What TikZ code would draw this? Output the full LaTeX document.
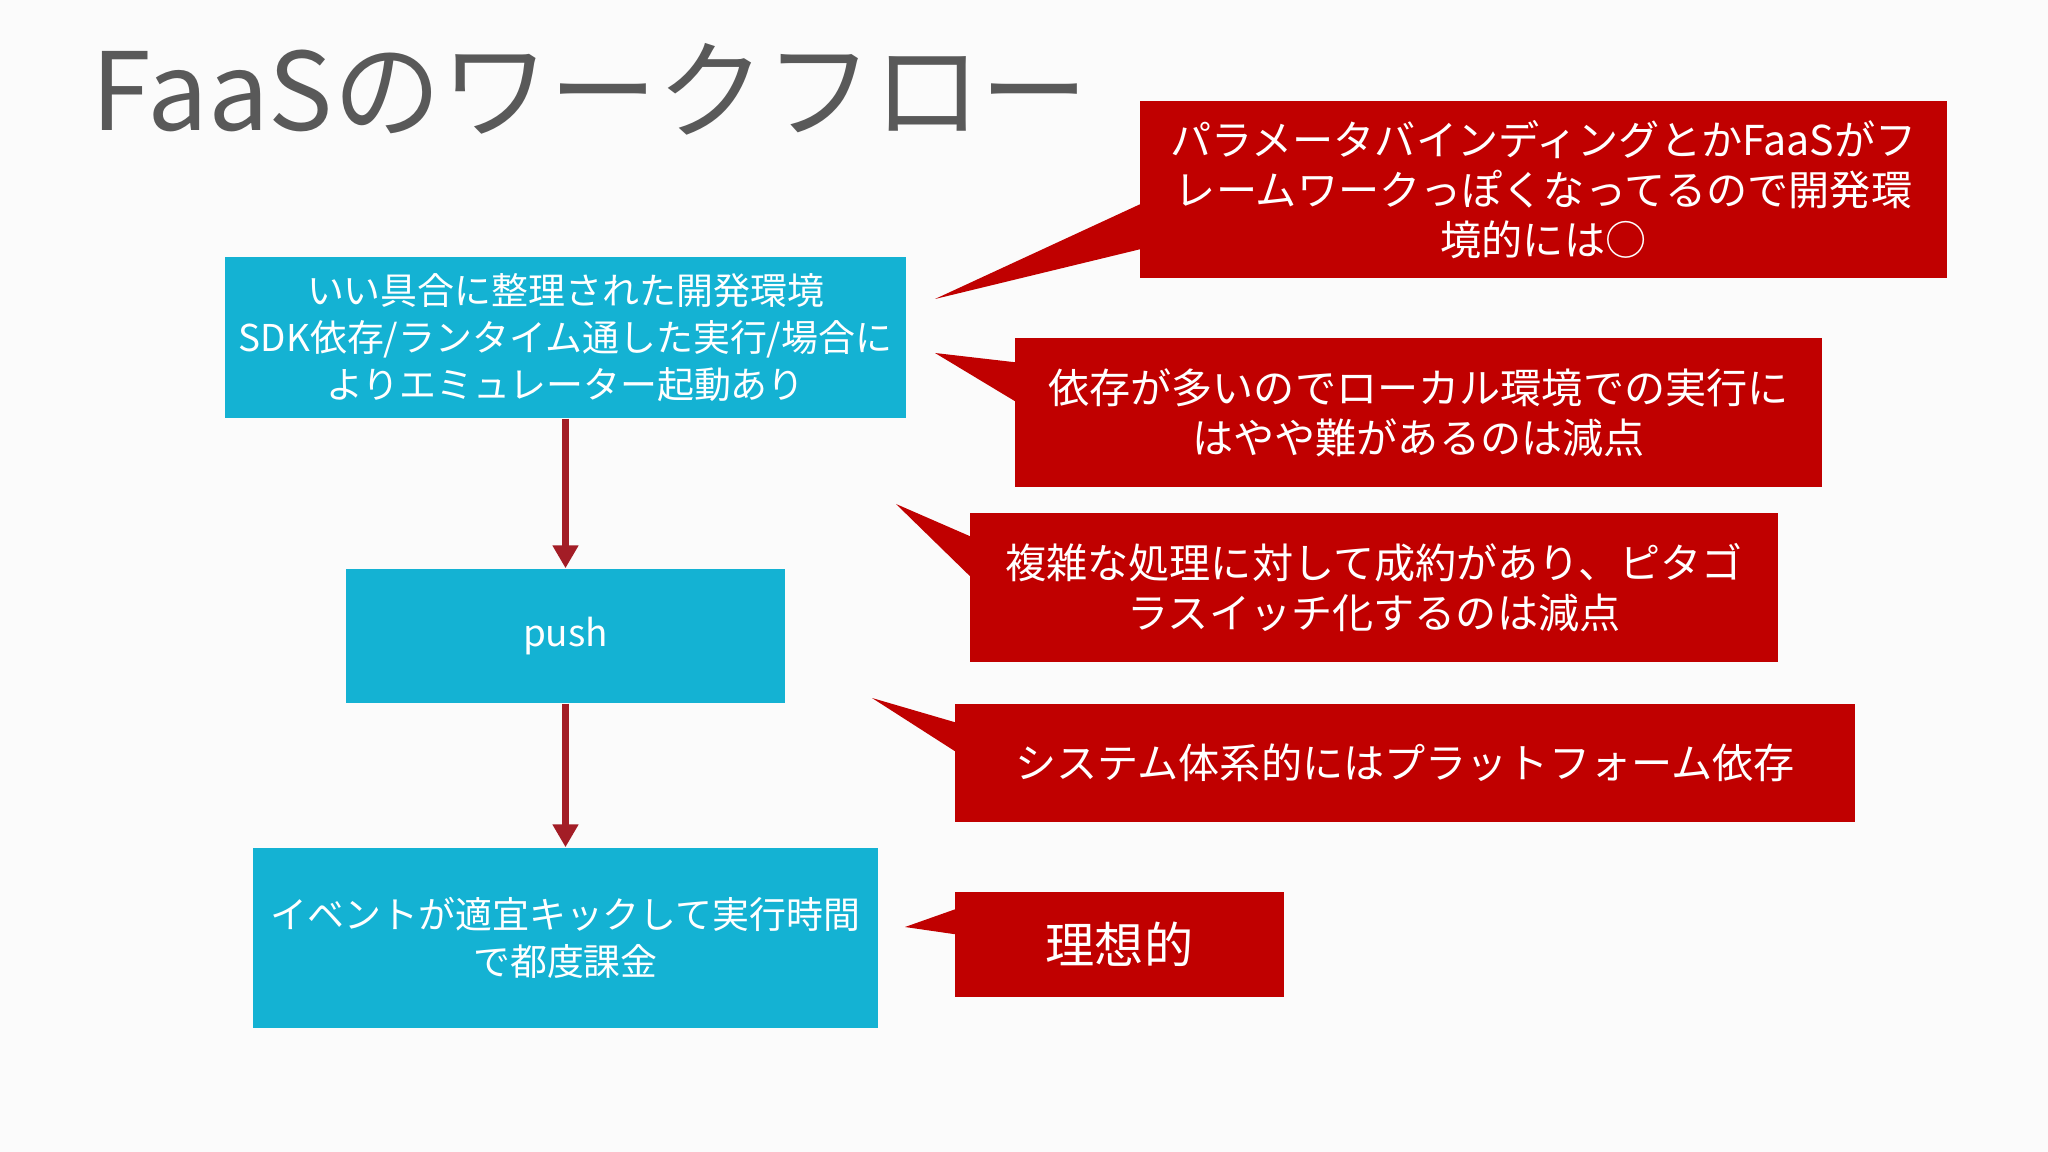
\documentclass[tikz,border=0pt]{standalone}
\usepackage{fontspec}
\setmainfont{Noto Sans CJK JP}
\usetikzlibrary{positioning,arrows.meta,calc}
\definecolor{flowcyan}{RGB}{20,178,211}
\definecolor{notered}{RGB}{192,0,0}
\definecolor{arrowred}{RGB}{163,29,38}
\definecolor{titlegray}{RGB}{89,89,89}
\definecolor{slidebg}{RGB}{251,251,251}
\tikzset{
  flowbox/.style={fill=flowcyan,text=white,align=center,inner sep=0pt,
    font=\fontsize{10.5}{13.4}\selectfont},
  notebox/.style={fill=notered,text=white,align=center,inner sep=0pt,
    font=\fontsize{11.7}{14.2}\selectfont},
  flowarrow/.style={draw=arrowred,line width=2pt,-{Triangle[length=6.5pt,width=7pt]}},
}
% tail of a note: #1 node, #2/#3 base offsets below its north west corner, #4 tip
\newcommand{\notetail}[4]{%
  \fill[notered] ($(#1.north west)+(1,#2)$) -- (#4) -- ($(#1.north west)+(1,#3)$) -- cycle;}

\begin{document}
\begin{tikzpicture}[x=0.01cm,y=-0.01cm]
  % --- slide ---
  \fill[slidebg] (0,0) rectangle (2048,1152);
  \useasboundingbox (0,0) rectangle (2048,1152);
  \node[anchor=base west,inner sep=0pt,text=titlegray,
        font=\fontsize{30.7}{36}\selectfont] (title) at (91,131) {FaaSのワークフロー};
  % --- flow (left column) ---
  \node[flowbox,minimum width=6.81cm,minimum height=1.61cm] (env) at (565.5,337.5)
    {いい具合に整理された開発環境\\SDK依存/ランタイム通した実行/場合に\\よりエミュレーター起動あり};
  \node[flowbox,minimum width=4.39cm,minimum height=1.34cm] (push) at (565.5,636) {push};
  \node[flowbox,minimum width=6.24cm,minimum height=1.80cm] (event) at (565.5,938)
    {イベントが適宜キックして実行時間\\で都度課金};
  \draw[flowarrow] (env.south) -- (push.north);
  \draw[flowarrow] (push.south) -- (event.north);
  % --- notes (right column) ---
  \node[notebox,minimum width=8.07cm,minimum height=1.77cm] (noteA) at (1543.5,189.5)
    {パラメータバインディングとかFaaSがフ\\レームワークっぽくなってるので開発環\\境的には○};
  \node[notebox,minimum width=8.07cm,minimum height=1.49cm] (noteB) at (1418.5,412.5)
    {依存が多いのでローカル環境での実行に\\はやや難があるのは減点};
  \node[notebox,minimum width=8.08cm,minimum height=1.49cm] (noteC) at (1374,587.5)
    {複雑な処理に対して成約があり、ピタゴ\\ラスイッチ化するのは減点};
  \node[notebox,minimum width=9.00cm,minimum height=1.18cm] (noteD) at (1405,763)
    {システム体系的にはプラットフォーム依存};
  \node[notebox,minimum width=3.29cm,minimum height=1.05cm,
        font=\fontsize{14}{17}\selectfont] (noteE) at (1119.5,944.5) {理想的};
  % --- note tails ---
  \coordinate (tipA) at (935,299);
  \coordinate (tipB) at (935,353);
  \coordinate (tipC) at (896,504);
  \coordinate (tipD) at (872,698);
  \coordinate (tipE) at (905,927);
  \notetail{noteA}{104}{149}{tipA}
  \notetail{noteB}{25}{64}{tipB}
  \notetail{noteC}{24}{64}{tipC}
  \notetail{noteD}{19}{48}{tipD}
  \notetail{noteE}{18}{43}{tipE}
\end{tikzpicture}
\end{document}
